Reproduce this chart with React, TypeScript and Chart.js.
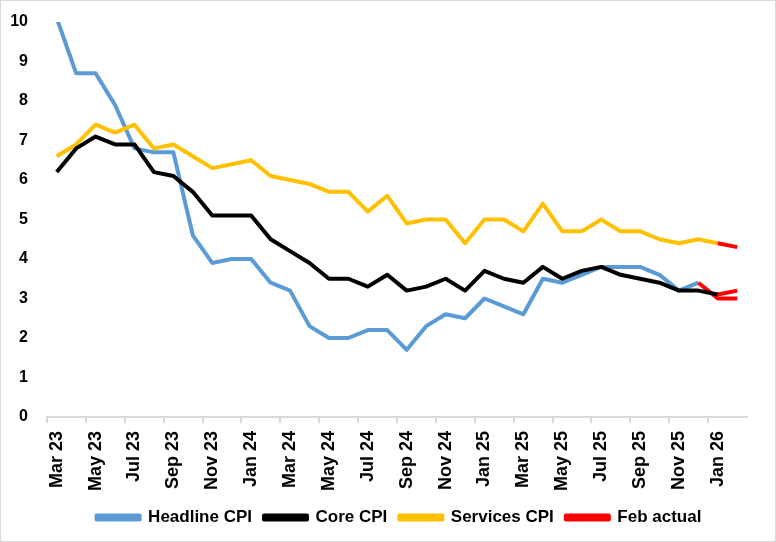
import React, { useEffect, useRef } from "react";
import { Chart, registerables } from "chart.js";

Chart.register(...registerables);

const months: string[] = [
  "Mar 23", "Apr 23", "May 23", "Jun 23", "Jul 23", "Aug 23", "Sep 23", "Oct 23", "Nov 23", "Dec 23",
  "Jan 24", "Feb 24", "Mar 24", "Apr 24", "May 24", "Jun 24", "Jul 24", "Aug 24", "Sep 24", "Oct 24", "Nov 24", "Dec 24",
  "Jan 25", "Feb 25", "Mar 25", "Apr 25", "May 25", "Jun 25", "Jul 25", "Aug 25", "Sep 25", "Oct 25", "Nov 25", "Dec 25",
  "Jan 26", "Feb 26",
];

const headlineCPI: (number | null)[] = [
  10.1, 8.7, 8.7, 7.9, 6.8, 6.7, 6.7, 4.6, 3.9, 4.0,
  4.0, 3.4, 3.2, 2.3, 2.0, 2.0, 2.2, 2.2, 1.7, 2.3, 2.6, 2.5,
  3.0, 2.8, 2.6, 3.5, 3.4, 3.6, 3.8, 3.8, 3.8, 3.6, 3.2, 3.4,
  null, null,
];

const coreCPI: (number | null)[] = [
  6.2, 6.8, 7.1, 6.9, 6.9, 6.2, 6.1, 5.7, 5.1, 5.1,
  5.1, 4.5, 4.2, 3.9, 3.5, 3.5, 3.3, 3.6, 3.2, 3.3, 3.5, 3.2,
  3.7, 3.5, 3.4, 3.8, 3.5, 3.7, 3.8, 3.6, 3.5, 3.4, 3.2, 3.2,
  3.1, null,
];

const servicesCPI: (number | null)[] = [
  6.6, 6.9, 7.4, 7.2, 7.4, 6.8, 6.9, 6.6, 6.3, 6.4,
  6.5, 6.1, 6.0, 5.9, 5.7, 5.7, 5.2, 5.6, 4.9, 5.0, 5.0, 4.4,
  5.0, 5.0, 4.7, 5.4, 4.7, 4.7, 5.0, 4.7, 4.7, 4.5, 4.4, 4.5,
  4.4, null,
];

const febHeadline: (number | null)[] = [
  ...Array(33).fill(null), 3.4, 3.0, 3.0,
];
const febCore: (number | null)[] = [
  ...Array(34).fill(null), 3.1, 3.2,
];
const febServices: (number | null)[] = [
  ...Array(34).fill(null), 4.4, 4.3,
];

const yTicks: number[] = [0, 1, 2, 3, 4, 5, 6, 7, 8, 9, 10];

const FONT = "'Liberation Sans', Arial, sans-serif";

const legendShift = {
  id: "legendShift",
  afterLayout(chart: any) {
    if (chart.legend) {
      chart.legend.left += 8;
      chart.legend.right += 8;
    }
  },
};

export default function App() {
  const ref = useRef<HTMLCanvasElement | null>(null);

  useEffect(() => {
    if (!ref.current) return;
    const line = (label: string, data: (number | null)[], color: string, order: number) => ({
      label,
      data,
      borderColor: color,
      backgroundColor: color,
      borderWidth: 4,
      pointRadius: 0,
      pointHoverRadius: 0,
      tension: 0,
      fill: false,
      spanGaps: false,
      borderJoinStyle: "round" as const,
      order,
      yAxisID: "y",
    });
    const chart = new Chart(ref.current, {
      type: "line",
      plugins: [legendShift],
      data: {
        labels: months,
        datasets: [
          line("Headline CPI", headlineCPI, "#5B9BD5", 5),
          line("Core CPI", coreCPI, "#000000", 0),
          line("Services CPI", servicesCPI, "#FFC000", 2),
          line("Feb actual", febHeadline, "#FF0000", 1),
          line("", febCore, "#FF0000", 1),
          line("", febServices, "#FF0000", 1),
        ],
      },
      options: {
        animation: false,
        responsive: false,
        maintainAspectRatio: false,
        layout: { padding: { top: 21, right: 0, left: 6, bottom: 5 } },
        plugins: {
          tooltip: { enabled: false },
          legend: {
            position: "bottom",
            labels: {
              filter: (item) => item.text !== "",
              sort: (a, b) => (a.datasetIndex ?? 0) - (b.datasetIndex ?? 0),
              boxWidth: 43,
              boxHeight: 4,
              padding: 12,
              color: "#000",
              font: { family: FONT, size: 17, weight: "bold" },
            },
          },
        },
        scales: {
          x: {
            type: "category",
            offset: true,
            grid: {
              display: true,
              offset: true,
              drawOnChartArea: false,
              drawTicks: true,
              tickLength: 6,
              lineWidth: 2,
              color: (ctx: any) => (ctx.index % 2 === 0 ? "#d9d9d9" : "rgba(0,0,0,0)"),
            },
            border: { display: true, color: "#d9d9d9", width: 2 },
            ticks: {
              autoSkip: false,
              maxRotation: 90,
              minRotation: 90,
              padding: 8,
              color: "#000",
              font: { family: FONT, size: 18, weight: "bold" },
              callback: function (_v: any, i: number) {
                return i % 2 === 0 ? months[i] : "";
              },
            },
            afterFit: (scale: any) => {
              scale.height = 80;
            },
          },
          y: {
            position: "left",
            min: 0,
            max: 10,
            grid: { display: false, drawTicks: false },
            border: { display: false },
            afterBuildTicks: (scale: any) => {
              scale.ticks = yTicks.map((v) => ({ value: v }));
            },
            ticks: {
              padding: 19,
              color: "#000",
              font: { family: FONT, size: 16, weight: "bold" },
            },
            afterFit: (scale: any) => {
              scale.width = 40;
              scale.paddingTop = 0;
              scale.paddingBottom = 0;
            },
          },
          yRight: {
            position: "right",
            min: 0,
            max: 10,
            grid: { display: false, drawTicks: false },
            border: { display: false },
            ticks: { display: false },
            afterFit: (scale: any) => {
              scale.width = 28;
              scale.paddingTop = 0;
              scale.paddingBottom = 0;
            },
          },
        },
      },
    });
    return () => chart.destroy();
  }, []);

  return (
    <div
      style={{
        position: "absolute",
        left: 0,
        top: 0,
        width: 776,
        height: 542,
        boxSizing: "border-box",
        border: "1px solid #d9d9d9",
        background: "#fff",
      }}
    >
      <canvas ref={ref} width={774} height={540} style={{ display: "block", width: 774, height: 540 }} />
    </div>
  );
}
